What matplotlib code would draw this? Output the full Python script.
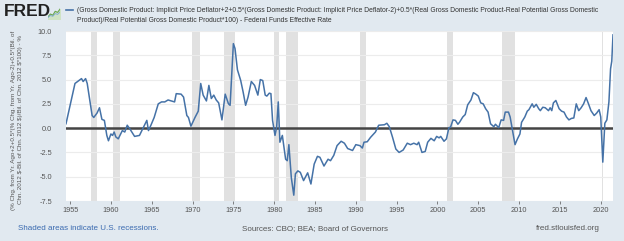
import matplotlib
matplotlib.use("Agg")
import matplotlib.pyplot as plt

plt.rcParams['font.family'] = ['Liberation Sans', 'DejaVu Sans']

# Taylor-rule gap series (decimal year, percent)
years = [1954.5, 1955.6, 1956.4, 1956.6, 1956.9, 1957.1, 1957.7, 1957.9, 1958.3, 1958.6,
         1958.9, 1959.2, 1959.5, 1959.7, 1960.0, 1960.2, 1960.4, 1960.6, 1960.9, 1961.4,
         1961.7, 1962.0, 1962.3, 1962.9, 1963.5, 1963.9, 1964.4, 1964.6, 1964.9, 1965.3,
         1965.8, 1966.2, 1966.6, 1967.0, 1967.8, 1968.0, 1968.6, 1968.9, 1969.3, 1969.5,
         1969.8, 1970.3, 1970.7, 1971.0, 1971.3, 1971.7, 1972.0, 1972.3, 1972.6, 1972.9,
         1973.2, 1973.6, 1974.0, 1974.4, 1974.6, 1975.0, 1975.2, 1975.5, 1975.9, 1976.2,
         1976.5, 1976.8, 1977.2, 1977.6, 1978.0, 1978.3, 1978.6, 1978.9, 1979.1, 1979.4,
         1979.6, 1979.8, 1980.1, 1980.3, 1980.5, 1980.7, 1981.0, 1981.4, 1981.6, 1981.8,
         1982.1, 1982.4, 1982.6, 1982.9, 1983.2, 1983.6, 1984.1, 1984.5, 1984.9, 1985.3,
         1985.6, 1986.1, 1986.6, 1986.9, 1987.3, 1987.7, 1988.2, 1988.6, 1989.0, 1989.6,
         1990.0, 1990.5, 1990.8, 1991.0, 1991.4, 1991.8, 1992.4, 1992.8, 1993.5, 1993.8,
         1994.1, 1994.5, 1994.9, 1995.3, 1995.8, 1996.3, 1996.7, 1997.1, 1997.5, 1997.7,
         1998.1, 1998.5, 1998.8, 1999.2, 1999.6, 1999.9, 2000.2, 2000.4, 2000.8, 2001.1,
         2001.4, 2001.6, 2001.9, 2002.2, 2002.5, 2002.7, 2003.1, 2003.4, 2003.7, 2004.1,
         2004.4, 2004.7, 2005.0, 2005.3, 2005.6, 2005.9, 2006.2, 2006.5, 2006.9, 2007.1,
         2007.5, 2007.8, 2008.1, 2008.3, 2008.7, 2008.9, 2009.2, 2009.5, 2009.8, 2010.1,
         2010.3, 2010.7, 2011.0, 2011.2, 2011.6, 2011.8, 2012.1, 2012.4, 2012.6, 2012.9,
         2013.2, 2013.6, 2013.8, 2014.0, 2014.2, 2014.5, 2014.9, 2015.2, 2015.5, 2015.8,
         2016.1, 2016.4, 2016.7, 2017.0, 2017.3, 2017.6, 2017.9, 2018.2, 2018.5, 2018.8,
         2019.2, 2019.5, 2019.8, 2020.0, 2020.25, 2020.5, 2020.75, 2021.0, 2021.2, 2021.35,
         2021.5]
values = [0.45, 4.6, 5.1, 4.8, 5.1, 4.6, 1.3, 1.1, 1.55, 2.1,
          0.9, 0.8, -0.75, -1.3, -0.6, -0.75, -0.4, -0.9, -1.1, -0.25,
          -0.4, 0.3, -0.05, -0.85, -0.75, -0.05, 0.8, -0.25, 0.3, 1.1,
          2.5, 2.7, 2.7, 2.9, 2.7, 3.55, 3.5, 3.2, 1.3, 1.1,
          0.2, 1.1, 1.75, 4.6, 3.4, 2.8, 4.4, 3.05, 3.4, 2.9,
          2.6, 0.85, 3.5, 2.5, 2.35, 8.7, 8.2, 6.0, 4.9, 3.7,
          2.35, 3.2, 4.8, 4.4, 3.4, 5.0, 4.9, 3.4, 3.3, 3.6,
          3.55, 0.8, -0.75, 0.1, 2.7, -1.45, -0.75, -3.2, -3.35, -1.7,
          -5.1, -6.9, -4.7, -4.4, -4.55, -5.4, -4.6, -5.75, -3.7, -2.9,
          -3.0, -3.9, -3.2, -3.35, -2.8, -1.8, -1.35, -1.55, -2.1, -2.3,
          -1.7, -1.8, -2.05, -1.45, -1.4, -0.95, -0.4, 0.3, 0.35, 0.5,
          0.15, -0.95, -2.15, -2.5, -2.25, -1.55, -1.7, -1.55, -1.7, -1.45,
          -2.5, -2.4, -1.45, -1.05, -1.3, -0.85, -1.0, -0.85, -1.35, -1.1,
          0.05, 0.1, 0.85, 0.8, 0.4, 0.6, 1.15, 1.4, 2.4, 2.9,
          3.65, 3.5, 3.3, 2.6, 2.5, 2.0, 1.65, 0.45, 0.15, 0.4,
          0.05, 0.85, 0.8, 1.65, 1.65, 1.15, -0.25, -1.7, -1.1, -0.6,
          0.6, 1.15, 1.75, 1.9, 2.5, 2.15, 2.45, 2.0, 1.8, 2.15,
          2.1, 1.8, 2.1, 1.8, 2.6, 2.85, 2.0, 1.75, 1.65, 1.15,
          0.85, 1.0, 1.05, 2.5, 1.8, 2.1, 2.5, 3.15, 2.5, 1.8,
          1.3, 1.55, 1.9, 1.15, -3.5, 0.5, 0.85, 2.7, 6.1, 6.9,
          9.6]

# NBER recessions (start, end) in decimal years
recessions = [(1957.6, 1958.3), (1960.3, 1961.1), (1969.9, 1970.9), (1973.8, 1975.2),
              (1980.0, 1980.55), (1981.5, 1982.9), (1990.55, 1991.2), (2001.2, 2001.85),
              (2007.9, 2009.45), (2020.1, 2020.3)]

x_ticks = list(range(1955, 2021, 5))
y_ticks = [-7.5, -5.0, -2.5, 0.0, 2.5, 5.0, 7.5, 10.0]

legend_text = ("(Gross Domestic Product: Implicit Price Deflator+2+0.5*(Gross Domestic Product: "
               "Implicit Price Deflator-2)+0.5*(Real Gross Domestic Product-Real Potential Gross Domestic\n"
               "Product)/Real Potential Gross Domestic Product*100) - Federal Funds Effective Rate")
y_label = ("(% Chg. from Yr. Ago+2+0.5*(% Chg. from Yr. Ago-2)+0.5*(Bil. of\n"
           "Chn. 2012 $-Bil. of Chn. 2012 $)/Bil. of Chn. 2012 $*100) - %")

bg = '#e1e9f0'
line_color = '#4572a7'

fig = plt.figure(figsize=(6.24, 2.41), dpi=100, facecolor=bg)
ax = fig.add_axes([66 / 624, 1 - 201 / 241, 547 / 624, 170 / 241])
ax.set_facecolor('white')

for start, end in recessions:
    ax.axvspan(start, end, color='#e1e1e1', lw=0, zorder=1)

ax.axhline(0, color='#444444', lw=1.8, zorder=2)
ax.plot(years, values, color=line_color, lw=1.1, zorder=3)

ax.set_xlim(1954.5, 2021.5)
ax.set_ylim(-7.5, 10)
ax.set_xticks(x_ticks)
ax.set_yticks(y_ticks)
ax.set_yticklabels([f"{v:.1f}" for v in y_ticks])
ax.grid(axis='y', color='#ececec', lw=0.8, zorder=0)
ax.tick_params(axis='x', labelsize=5.3, colors='#555555', length=2, width=0.5, pad=2)
ax.tick_params(axis='y', labelsize=5.3, colors='#555555', length=0, pad=10)
for s in ax.spines.values():
    s.set_visible(False)

# y label
fig.text(17 / 624, 1 - 120 / 241, y_label, rotation=90, ha='center', va='center',
         fontsize=4.5, color='#555555', linespacing=1.3)

# header: FRED logo + legend
fig.text(4 / 624, 1 - 12 / 241, 'FRED', fontsize=12.5, fontweight='heavy', color='#222222',
         ha='left', va='center')
icon_vals = [0.2, 0.45, 0.35, 0.7, 0.6, 0.9]
icon = fig.add_axes([48 / 624, 1 - 19 / 241, 12 / 624, 11 / 241])
icon.set_facecolor(bg)
icon.fill_between(range(len(icon_vals)), icon_vals, color='#cfe3c5')
icon.plot(range(len(icon_vals)), icon_vals, color='#6aa84f', lw=0.8)
icon.plot(range(len(icon_vals)), [v * 0.7 for v in icon_vals], color='#7aa6d6', lw=0.6)
icon.set_xlim(0, len(icon_vals) - 1)
icon.set_ylim(0, 1)
icon.axis('off')

fig.lines.append(plt.Line2D([66 / 624, 73 / 624], [1 - 10 / 241, 1 - 10 / 241],
                            transform=fig.transFigure, color=line_color, lw=1.2))
fig.text(77 / 624, 1 - 15 / 241, legend_text, fontsize=4.9, color='#333333',
         ha='left', va='center', linespacing=1.6)

# footer
fig.text(18 / 624, 1 - 229 / 241, 'Shaded areas indicate U.S. recessions.', fontsize=5.8,
         color='#3a6ab0', ha='left', va='center')
fig.text(242 / 624, 1 - 229 / 241, 'Sources: CBO; BEA; Board of Governors', fontsize=5.8,
         color='#555555', ha='left', va='center')
fig.text(600 / 624, 1 - 229 / 241, 'fred.stlouisfed.org', fontsize=5.8,
         color='#555555', ha='right', va='center')

fig.savefig('out.png', dpi=100, facecolor=bg)
